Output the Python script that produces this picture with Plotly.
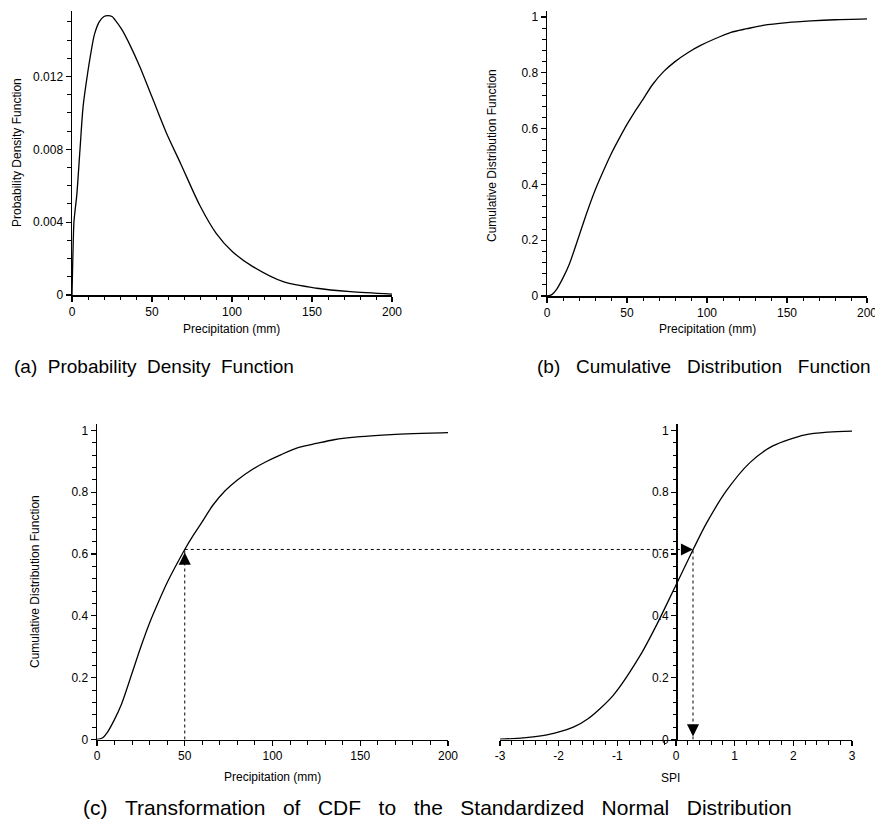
import plotly.graph_objects as go

# ---------------- data ----------------
pdf_precip = [0, 0.3, 0.6, 1.2, 2, 3, 5, 7, 9.8, 12, 14, 17, 20, 22.3, 25, 27, 31, 36.4,
              42.6, 49.9, 59, 68, 80, 90, 100, 113, 132, 153, 174, 200]
pdf_values = [0, 0.0012, 0.0023, 0.0040, 0.0047, 0.0055, 0.0080, 0.0104, 0.0122, 0.0134,
              0.0143, 0.0150, 0.0153, 0.01535, 0.0153, 0.0151, 0.0146, 0.0137, 0.0125,
              0.0109, 0.0089, 0.0072, 0.0049, 0.0034, 0.0024, 0.00156, 0.00073, 0.00037,
              0.00018, 0.00005]

cdf_precip = [0, 3, 6, 10, 14, 20, 25, 30, 35, 40, 45, 50, 55, 60, 66, 73, 80, 88, 96,
              105, 115, 125, 135, 150, 165, 180, 200]
cdf_values = [0, 0.005, 0.024, 0.065, 0.115, 0.215, 0.300, 0.378, 0.445, 0.508, 0.563,
              0.615, 0.662, 0.705, 0.758, 0.805, 0.840, 0.872, 0.898, 0.922, 0.945,
              0.958, 0.970, 0.980, 0.986, 0.990, 0.993]

spi_x = [-3, -2.6, -2.2, -1.75, -1.5, -1.07, -0.61, -0.33, 0, 0.3, 0.52, 0.86, 1.26,
         1.65, 2.2, 2.6, 3]
spi_cdf = [0.001, 0.005, 0.015, 0.040, 0.067, 0.143, 0.272, 0.371, 0.500, 0.618, 0.700,
           0.805, 0.896, 0.950, 0.986, 0.995, 0.998]

example_precip = 50
example_cdf = 0.615
example_spi = 0.29

pdf_ticks = [0, 0.004, 0.008, 0.012]
pdf_ticktext = ["0", "0.004", "0.008", "0.012"]
precip_ticks = [0, 50, 100, 150, 200]
precip_ticktext = ["0", "50", "100", "150", "200"]
cdf_ticks = [0, 0.2, 0.4, 0.6, 0.8, 1]
cdf_ticktext = ["0", "0.2", "0.4", "0.6", "0.8", "1"]
spi_ticks = [-3, -2, -1, 0, 1, 2, 3]
spi_ticktext = ["-3", "-2", "-1", "0", "1", "2", "3"]

# ---------------- layout helpers ----------------
W, H = 875, 825
FONT = "Liberation Sans Narrow, Arial Narrow, Liberation Sans, Arial, sans-serif"
TICKFONT = "Liberation Sans, Arial, sans-serif"
CAPFONT = "Liberation Sans, Arial, sans-serif"


def fx(p):
    return p / W


def fy(p):
    return 1 - p / H


dom_a = dict(x=[fx(72), fx(392)], y=[fy(295), fy(11)])
dom_b = dict(x=[fx(547), fx(867)], y=[fy(296), fy(11.4)])
dom_c1 = dict(x=[fx(97), fx(448)], y=[fy(739.5), fy(424.3)])
dom_c2 = dict(x=[fx(500), fx(852)], y=[fy(739.5), fy(424.3)])

rng_a_y = [0, 0.0156]
rng_cdf_y = [0, 1.02]
rng_p = [0, 200]
rng_spi = [-3, 3]

line_style = dict(color="black", width=1.3, shape="spline", smoothing=0.8)

fig = go.Figure()
fig.add_trace(go.Scatter(x=pdf_precip, y=pdf_values, mode="lines", line=line_style,
                         xaxis="x", yaxis="y", showlegend=False, hoverinfo="skip"))
fig.add_trace(go.Scatter(x=cdf_precip, y=cdf_values, mode="lines", line=line_style,
                         xaxis="x2", yaxis="y2", showlegend=False, hoverinfo="skip"))
fig.add_trace(go.Scatter(x=cdf_precip, y=cdf_values, mode="lines", line=line_style,
                         xaxis="x3", yaxis="y3", showlegend=False, hoverinfo="skip"))
fig.add_trace(go.Scatter(x=spi_x, y=spi_cdf, mode="lines", line=line_style,
                         xaxis="x4", yaxis="y4", showlegend=False, hoverinfo="skip"))


def axis(minor_dtick, **kw):
    base = dict(showline=True, linecolor="black", linewidth=1.5, ticks="outside", ticklen=5,
                tickwidth=1.2, tickcolor="black", showgrid=False, zeroline=False,
                tickmode="array", ticklabeloverflow="allow",
                tickfont=dict(family=TICKFONT, size=12, color="black"),
                minor=dict(ticks="outside", ticklen=3.5, tickwidth=1, tickcolor="black",
                           tickmode="linear", dtick=minor_dtick, tick0=0, showgrid=False),
                fixedrange=True)
    base.update(kw)
    return base


def to_paper_x(v, dom, rng):
    return dom[0] + (v - rng[0]) / (rng[1] - rng[0]) * (dom[1] - dom[0])


layout = dict(
    width=W, height=H, margin=dict(l=0, r=0, t=0, b=0),
    paper_bgcolor="white", plot_bgcolor="white", template="none", showlegend=False,
    xaxis=axis(10, domain=dom_a["x"], range=rng_p, anchor="y", tickvals=precip_ticks,
               ticktext=precip_ticktext),
    yaxis=axis(0.001, domain=dom_a["y"], range=rng_a_y, anchor="x", tickvals=pdf_ticks,
               ticktext=pdf_ticktext),
    xaxis2=axis(10, domain=dom_b["x"], range=rng_p, anchor="y2", tickvals=precip_ticks,
                ticktext=precip_ticktext),
    yaxis2=axis(0.04, domain=dom_b["y"], range=rng_cdf_y, anchor="x2", tickvals=cdf_ticks,
                ticktext=cdf_ticktext),
    xaxis3=axis(10, domain=dom_c1["x"], range=rng_p, anchor="y3", tickvals=precip_ticks,
                ticktext=precip_ticktext),
    yaxis3=axis(0.04, domain=dom_c1["y"], range=rng_cdf_y, anchor="x3", tickvals=cdf_ticks,
                ticktext=cdf_ticktext),
    xaxis4=axis(0.2, domain=dom_c2["x"], range=rng_spi, anchor="y4", tickvals=spi_ticks,
                ticktext=spi_ticktext),
    yaxis4=axis(0.04, domain=dom_c2["y"], range=rng_cdf_y, anchor="free",
                position=to_paper_x(0, dom_c2["x"], rng_spi), tickvals=cdf_ticks,
                ticktext=cdf_ticktext),
)
fig.update_layout(**layout)

# dotted guide lines
dot = dict(color="black", width=1, dash="dot")
fig.add_shape(type="line", xref="x3", yref="y3", x0=example_precip, x1=example_precip,
              y0=0, y1=example_cdf, line=dot)
fig.add_shape(type="line", xref="paper", yref="y3",
              x0=to_paper_x(example_precip, dom_c1["x"], rng_p),
              x1=to_paper_x(example_spi, dom_c2["x"], rng_spi),
              y0=example_cdf, y1=example_cdf, line=dot)
fig.add_shape(type="line", xref="x4", yref="y4", x0=example_spi, x1=example_spi,
              y0=0, y1=example_cdf, line=dot)

# arrow heads
arrow = dict(text="", showarrow=True, arrowhead=2, arrowsize=2.2, arrowwidth=1.1,
             arrowcolor="black", standoff=0)
fig.add_annotation(xref="x3", yref="y3", x=example_precip, y=example_cdf - 0.01, ax=0, ay=13, **arrow)
fig.add_annotation(xref="x4", yref="y4", x=example_spi, y=example_cdf, ax=-13, ay=0, **arrow)
fig.add_annotation(xref="x4", yref="y4", x=example_spi, y=0.01, ax=0, ay=-13, **arrow)


# axis titles and captions as text
def label(text, x, y, size=12, angle=0, family=FONT):
    fig.add_annotation(xref="paper", yref="paper", x=fx(x), y=fy(y), text=text, showarrow=False,
                       textangle=angle, font=dict(family=family, size=size, color="black"),
                       xanchor="center", yanchor="middle")


label("Probability Density Function", 17, 153, angle=-90)
label("Precipitation (mm)", 232, 329)
label("Cumulative Distribution Function", 492, 156, angle=-90)
label("Precipitation (mm)", 707, 329)
label("Cumulative Distribution Function", 35, 582, angle=-90)
label("Precipitation (mm)", 272, 777)
label("SPI", 670, 778)

SP2 = "\u00a0\u00a0"
SP3 = "\u00a0\u00a0\u00a0"
label(SP2.join(["(a)", "Probability", "Density", "Function"]), 154, 366, size=19, family=CAPFONT)
label(SP3.join(["(b)", "Cumulative", "Distribution", "Function"]), 704, 366, size=19, family=CAPFONT)
label(SP3.join(["(c)", "Transformation", "of", "CDF", "to", "the", "Standardized", "Normal",
                "Distribution"]), 437, 807, size=21, family=CAPFONT)

fig.write_html("out.html", post_script="document.body.style.margin='0';",
               config={"displayModeBar": False, "staticPlot": True})
